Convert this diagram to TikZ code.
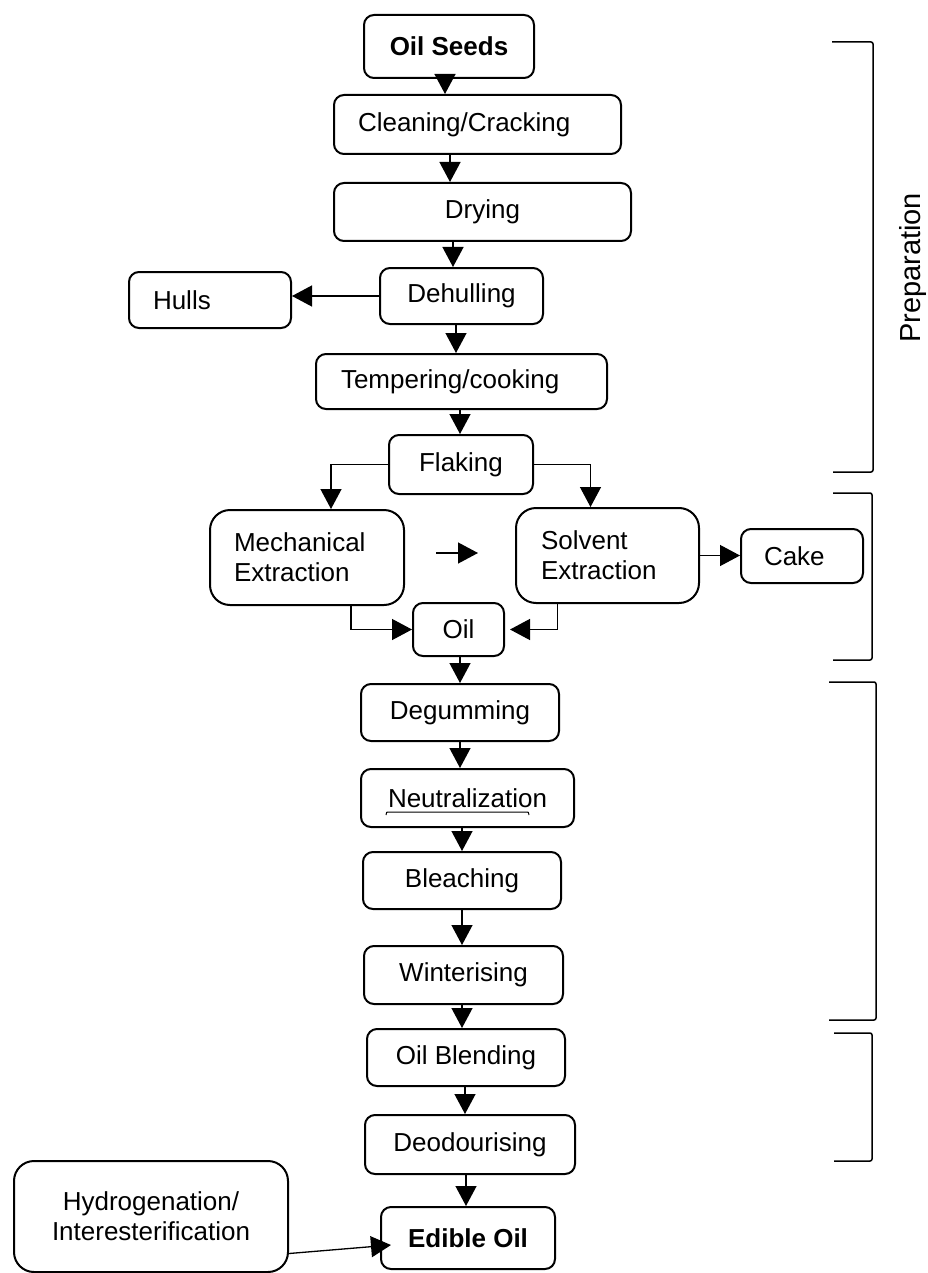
\documentclass[tikz,border=0pt]{standalone}
\usepackage{fontspec}
\setmainfont{Liberation Sans}
\usepackage{tikz}
\usetikzlibrary{arrows.meta, positioning, calc}
\definecolor{ink}{RGB}{0,0,0}
\tikzset{
  process/.style={
    draw=ink, line width=2pt, rounded corners=10pt, inner sep=0pt,
    anchor=north west, align=center, font=\fontsize{26}{30}\selectfont
  },
  big process/.style={process, rounded corners=20pt},
  left text/.style 2 args={align=left, inner xsep=#1, text width=#2},
  bold text/.style={font=\fontsize{26}{30}\selectfont\bfseries},
  flow/.style={draw=ink, line width=1.3pt, -{Triangle[length=20pt,width=21pt]}},
  phase/.style={draw=ink, line width=1.5pt, rounded corners=2pt},
}

\begin{document}
\begin{tikzpicture}[x=1pt, y=-1pt]
  \useasboundingbox (0,0) rectangle (927,1273);
  % preparation
  \node[process, bold text, minimum width=170pt, minimum height=63pt] (seeds) at (363,14) {Oil Seeds};
  \node[process, left text={24pt}{239pt}, minimum height=59pt] (clean) at (333,94) {Cleaning/Cracking};
  \node[process, minimum width=297pt, minimum height=58pt] (drying) at (333,182) {Drying};
  \node[process, minimum width=163pt, minimum height=56pt] (dehull) at (379,267) {Dehulling};
  \node[process, left text={24pt}{114pt}, minimum height=56pt] (hulls) at (128,271) {Hulls};
  \node[process, left text={25pt}{241pt}, minimum height=55pt] (temper) at (315,353) {Tempering/cooking};
  \node[process, minimum width=144pt, minimum height=59pt] (flaking) at (388,434) {Flaking};
  % extraction
  \node[big process, left text={24pt}{146pt}, minimum height=95pt] (mech) at (209,509) {Mechanical\\Extraction};
  \node[big process, left text={25pt}{133pt}, minimum height=95pt] (solvent) at (515,507) {Solvent\\Extraction};
  \node[process, left text={23pt}{76pt}, minimum height=54pt] (cake) at (740,528) {Cake};
  \node[process, minimum width=91pt, minimum height=53pt] (oil) at (412,602) {Oil};
  \coordinate (gapL) at (436,553);
  \coordinate (gapR) at (478,553);
  % refining
  \node[process, minimum width=198pt, minimum height=57pt] (degum) at (360,683) {Degumming};
  \node[process, minimum width=213pt, minimum height=58pt] (neutral) at (360,768) {Neutralization};
  \node[process, minimum width=198pt, minimum height=57pt] (bleach) at (362,851) {Bleaching};
  \node[process, minimum width=199pt, minimum height=58pt] (winter) at (363,945) {Winterising};
  \node[process, minimum width=198pt, minimum height=57pt] (blend) at (366,1028) {Oil Blending};
  \node[process, minimum width=210pt, minimum height=59pt] (deodor) at (364,1114) {Deodourising};
  \node[process, bold text, minimum width=174pt, minimum height=62pt] (edible) at (380,1206) {Edible Oil};
  \node[big process, minimum width=274pt, minimum height=111pt] (hydro) at (13,1160) {Hydrogenation/\\Interesterification};

  \foreach \a/\b/\x in {seeds/clean/445, clean/drying/450, drying/dehull/453,
      dehull/temper/456, temper/flaking/460, oil/degum/460, degum/neutral/460,
      neutral/bleach/462, bleach/winter/462, winter/blend/462, blend/deodor/465,
      deodor/edible/466}
    \draw[flow] (\x,0 |- \a.south) -- (\x,0 |- \b.north);

  \draw[flow] (dehull.west) -- (hulls.east |- dehull.west);
  \draw[flow] (flaking.west) -| ([xshift=24pt]mech.north);
  \draw[flow] (flaking.east) -| ([xshift=-17pt]solvent.north);
  \draw[flow] (gapL) -- (gapR);
  \draw[flow] (solvent.east) -- (cake.west |- solvent.east);
  \draw[flow] ([xshift=44pt]mech.south) |- (oil.west);
  \draw[flow] ([xshift=-50pt]solvent.south) |- ([xshift=5pt]oil.east);
  \draw[flow] ([yshift=-37pt]hydro.east) -- ([xshift=11pt,yshift=-7pt]edible.west);

  \draw[line width=1pt] (386,815) .. controls (386,812) .. (391,812) -- (524,812) .. controls (529,812) .. (529,815);

  % stage brackets
  \draw[phase] (832,42) -- (873,42) -- (873,472) -- (833,472);
  \draw[phase] (833,493) -- (872,493) -- (872,660) -- (833,660);
  \draw[phase] (829,682) -- (876,682) -- (876,1020) -- (829,1020);
  \draw[phase] (834,1033) -- (872,1033) -- (872,1161) -- (834,1161);
  \node[rotate=90, font=\fontsize{29}{32}\selectfont] (prep) at (913,268) {Preparation};
\end{tikzpicture}
\end{document}
